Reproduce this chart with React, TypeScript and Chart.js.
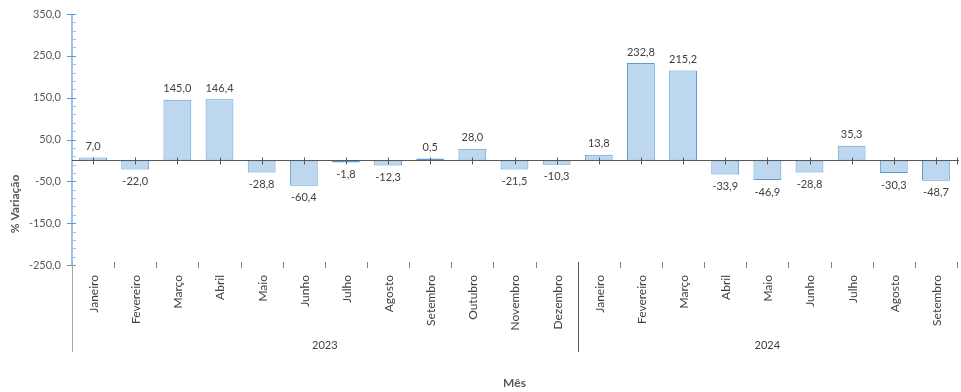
import React, { useEffect, useRef } from 'react';
import { Chart, registerables } from 'chart.js';
Chart.register(...registerables);

const months2023 = ['Janeiro', 'Fevereiro', 'Março', 'Abril', 'Maio', 'Junho', 'Julho', 'Agosto', 'Setembro', 'Outubro', 'Novembro', 'Dezembro'];
const months2024 = ['Janeiro', 'Fevereiro', 'Março', 'Abril', 'Maio', 'Junho', 'Julho', 'Agosto', 'Setembro'];
const years = ['2023', '2024'];
const values2023 = [7.0, -22.0, 145.0, 146.4, -28.8, -60.4, -1.8, -12.3, 0.5, 28.0, -21.5, -10.3];
const values2024 = [13.8, 232.8, 215.2, -33.9, -46.9, -28.8, 35.3, -30.3, -48.7];
const yMin = -250;
const yMax = 350;
const yStep = 100;
const yMinorStep = 20;
const yTitle = '% Variação';
const xTitle = 'Mês';

const labels = [...months2023, ...months2024];
const values = [...values2023, ...values2024];
const groupSizes = [months2023.length, months2024.length];

const FONT = 'Lato, "Open Sans", sans-serif';
const fmt = (v: number) => v.toFixed(1).replace('.', ',');

const customPlugin = {
  id: 'customDraw',
  afterDraw(chart: any) {
    const { ctx, chartArea: ca, scales } = chart;
    const x = scales.x;
    const y = scales.y;
    const n = labels.length;
    const catW = x.getPixelForValue(1) - x.getPixelForValue(0);
    const line = (x1: number, y1: number, x2: number, y2: number) => {
      ctx.beginPath();
      ctx.moveTo(x1, y1);
      ctx.lineTo(x2, y2);
      ctx.stroke();
    };
    ctx.save();
    const lx = Math.round(ca.left);
    // y axis line
    ctx.strokeStyle = '#9DC3E6';
    ctx.lineWidth = 2;
    line(lx, ca.top, lx, ca.bottom);
    ctx.lineWidth = 1;
    for (let v = yMin; v <= yMax + 0.001; v += yMinorStep) {
      const py = Math.round(y.getPixelForValue(v)) + 0.5;
      line(lx, py, lx + 4, py);
    }
    ctx.strokeStyle = '#5B9BD5';
    for (let v = yMin; v <= yMax + 0.001; v += yStep) {
      const py = Math.round(y.getPixelForValue(v)) + 0.5;
      line(lx - 5, py, lx + 4, py);
    }
    // zero line
    const y0 = Math.round(y.getPixelForValue(0)) + 0.5;
    ctx.strokeStyle = '#595959';
    ctx.lineWidth = 1;
    line(ca.left, y0, ca.right + 2, y0);
    for (let i = 0; i < n; i++) {
      const cx = Math.round(x.getPixelForValue(i)) + 0.5;
      line(cx, y0 - 3, cx, y0 + 4);
    }
    line(Math.round(ca.right) + 0.5, y0 - 3, Math.round(ca.right) + 0.5, y0 + 4);
    // category boundary ticks
    const by = Math.round(ca.bottom);
    ctx.strokeStyle = '#7F7F7F';
    for (let i = 1; i < n; i++) {
      const bx = Math.round(x.getPixelForValue(i) - catW / 2) + 0.5;
      line(bx, by - 3, bx, by + 3);
    }
    line(Math.round(ca.right) + 0.5, by - 3, Math.round(ca.right) + 0.5, by + 3);
    // left line under axis
    ctx.strokeStyle = '#A6A6A6';
    line(lx + 0.5, by - 3, lx + 0.5, by + 87);
    // group separators and year labels
    let start = 0;
    ctx.font = '11px ' + FONT;
    ctx.fillStyle = '#404040';
    ctx.textAlign = 'center';
    ctx.textBaseline = 'middle';
    groupSizes.forEach((size, gi) => {
      const x1 = x.getPixelForValue(start) - catW / 2;
      const x2 = x.getPixelForValue(start + size - 1) + catW / 2;
      if (gi > 0) {
        ctx.strokeStyle = '#595959';
        const sx = Math.round(x1) + 0.5;
        line(sx, by - 3, sx, by + 87);
      }
      ctx.fillText(years[gi], (x1 + x2) / 2, by + 80);
      start += size;
    });
    // month labels
    ctx.font = '12px ' + FONT;
    ctx.textAlign = 'right';
    ctx.textBaseline = 'middle';
    for (let i = 0; i < n; i++) {
      const cx = x.getPixelForValue(i);
      ctx.save();
      ctx.translate(cx + 1, by + 10);
      ctx.rotate(-Math.PI / 2);
      ctx.fillText(labels[i], 0, 0);
      ctx.restore();
    }
    // data labels
    ctx.font = '11px ' + FONT;
    const meta = chart.getDatasetMeta(0);
    ctx.textAlign = 'center';
    meta.data.forEach((bar: any, i: number) => {
      const v = values[i];
      const ty = v >= 0 ? bar.y - 11 : bar.y + 12;
      ctx.fillText(fmt(v), bar.x, ty);
    });
    // titles
    ctx.font = 'bold 12px ' + FONT;
    ctx.fillStyle = '#595959';
    ctx.textAlign = 'center';
    ctx.fillText(xTitle, (ca.left + ca.right) / 2, 383);
    ctx.save();
    ctx.translate(15, 204);
    ctx.rotate(-Math.PI / 2);
    ctx.fillText(yTitle, 0, 0);
    ctx.restore();
    ctx.restore();
  },
};

export default function App() {
  const ref = useRef<HTMLCanvasElement>(null);
  useEffect(() => {
    document.body.style.margin = '0';
    const chart = new Chart(ref.current as HTMLCanvasElement, {
      type: 'bar',
      data: {
        labels,
        datasets: [
          {
            data: values,
            backgroundColor: '#BDD7EE',
            borderColor: '#5B9BD5',
            borderWidth: 1,
            borderSkipped: false,
            minBarLength: 2,
            barPercentage: 0.66,
            categoryPercentage: 1,
          },
        ],
      },
      options: {
        animation: false,
        responsive: false,
        devicePixelRatio: 1,
        layout: { padding: { left: 0, right: 4, top: 14, bottom: 127 } },
        plugins: { legend: { display: false }, tooltip: { enabled: false } },
        scales: {
          x: { display: false },
          y: {
            min: yMin,
            max: yMax,
            afterFit: (s: any) => {
              s.width = 72;
            },
            ticks: {
              stepSize: yStep,
              padding: 3,
              color: '#595959',
              font: { size: 11, family: FONT },
              callback: (v: any) => fmt(Number(v)),
            },
            grid: { display: false, drawTicks: true, tickLength: 8 },
            border: { display: false },
          },
        },
      },
      plugins: [customPlugin],
    });
    return () => chart.destroy();
  }, []);
  return <canvas ref={ref} width={961} height={392} style={{ display: 'block' }} />;
}
